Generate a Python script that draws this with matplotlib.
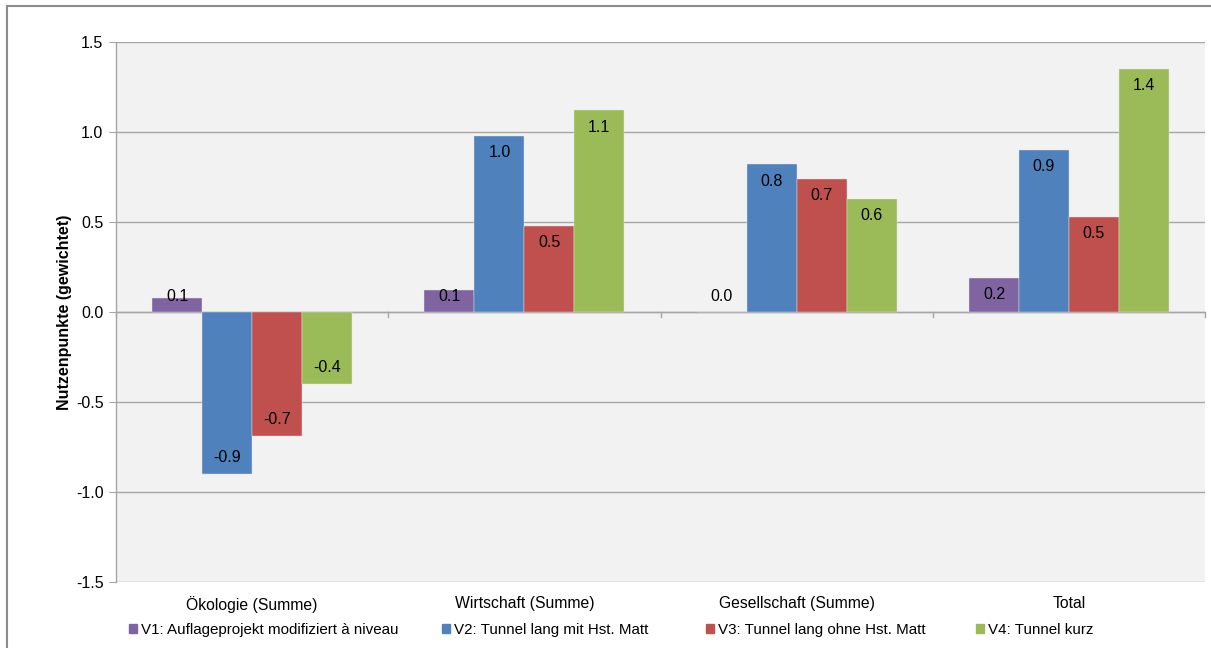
import numpy as np
import matplotlib
matplotlib.use("Agg")
import matplotlib.pyplot as plt
from matplotlib.patches import Patch, Rectangle
from matplotlib.ticker import FormatStrFormatter

plt.rcParams["font.family"] = ["Liberation Sans", "DejaVu Sans"]

# Data
categories = ["Ökologie (Summe)", "Wirtschaft (Summe)", "Gesellschaft (Summe)", "Total"]
series_names = [
    "V1: Auflageprojekt modifiziert à niveau",
    "V2: Tunnel lang mit Hst. Matt",
    "V3: Tunnel lang ohne Hst. Matt",
    "V4: Tunnel kurz",
]
v1 = [0.08, 0.12, 0.0, 0.19]
v2 = [-0.90, 0.98, 0.82, 0.90]
v3 = [-0.69, 0.48, 0.74, 0.53]
v4 = [-0.40, 1.12, 0.63, 1.35]
colors = ["#8064A2", "#4F81BD", "#C0504D", "#9BBB59"]

W, H = 1211, 648
fig = plt.figure(figsize=(W / 100, H / 100), dpi=100)
# outer chart border
fig.patches.append(Rectangle((7 / W, -0.1), 1.2, 1 - 6 / H + 0.1, transform=fig.transFigure,
                             fill=False, edgecolor="#8c8c8c", linewidth=1.5))

ax = fig.add_axes([116 / W, 1 - 582 / H, (1205 - 116) / W, (582 - 42) / H])
ax.set_facecolor("#f2f2f2")

x = np.arange(len(categories))
bw = 0.1835
all_series = [v1, v2, v3, v4]
for i, vals in enumerate(all_series):
    xs = x + (i - 1.5) * bw
    ax.bar(xs, vals, width=bw, color=colors[i], edgecolor="#e8e8e8", linewidth=0.3, zorder=3)
    for xi, v in zip(xs, vals):
        if v >= 0:
            ly = max(v - 0.094, 0.085)
        else:
            ly = min(v + 0.094, -0.085)
        ax.text(xi, ly, f"{v:.1f}", ha="center", va="center", fontsize=11.5, color="#000000", zorder=4)

ax.set_xlim(-0.5, len(categories) - 0.5)
ax.set_ylim(-1.5, 1.5)
ax.set_yticks(np.arange(-1.5, 1.51, 0.5))
ax.yaxis.set_major_formatter(FormatStrFormatter("%.1f"))
ax.yaxis.grid(True, color="#a6a6a6", linewidth=1.0, zorder=0)
ax.set_axisbelow(True)
ax.tick_params(axis="y", length=5, color="#a6a6a6", labelsize=11.5, pad=4)

# zero axis with category separator ticks
ax.axhline(0, color="#a6a6a6", linewidth=1.0, zorder=2)
for b in np.arange(-0.5, len(categories), 1.0):
    ax.plot([b, b], [0, -0.028], color="#a6a6a6", linewidth=1.0, zorder=2, clip_on=False)

ax.set_xticks(x)
ax.set_xticklabels(categories, fontsize=11.3)
ax.tick_params(axis="x", length=0, pad=10)

for s in ["top", "right", "bottom"]:
    ax.spines[s].set_visible(False)
ax.spines["left"].set_color("#a6a6a6")
ax.spines["left"].set_linewidth(1.0)

ax.set_ylabel("Nutzenpunkte (gewichtet)", fontsize=11.5, fontweight="bold", labelpad=3)

# legend entries placed individually
legend_x = [129, 442, 706, 976]
for i, name in enumerate(series_names):
    leg = fig.legend(handles=[Patch(color=colors[i], label=name)], loc="center left",
                     bbox_to_anchor=(legend_x[i] / W, 1 - 630 / H), frameon=False,
                     fontsize=10.9, handlelength=0.55, handleheight=0.55, handletextpad=0.25,
                     borderpad=0, borderaxespad=0)

fig.savefig("out.png", dpi=100)
